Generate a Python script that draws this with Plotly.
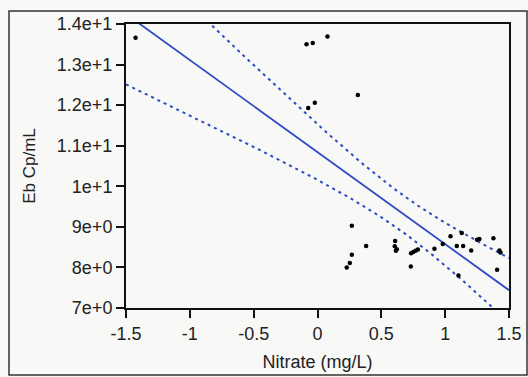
import numpy as np
import plotly.graph_objects as go

# Data
nitrate = [-1.425, -0.086, -0.037, 0.078, 0.316, -0.073, -0.021,
           0.269, 0.381, 0.269, 0.253, 0.229,
           0.608, 0.605, 0.621, 0.614,
           0.733, 0.750, 0.768, 0.786, 0.731,
           0.916, 0.981, 1.042,
           1.091, 1.141, 1.130, 1.104,
           1.204, 1.250, 1.268,
           1.378, 1.425, 1.433, 1.407]
eb = [13.66, 13.50, 13.53, 13.69, 12.25, 11.93, 12.06,
      9.03, 8.53, 8.31, 8.11, 8.00,
      8.65, 8.52, 8.45, 8.41,
      8.35, 8.38, 8.41, 8.44, 8.02,
      8.46, 8.58, 8.77,
      8.53, 8.53, 8.85, 7.80,
      8.42, 8.68, 8.70,
      8.72, 8.42, 8.37, 7.94]

x_tickvals = [-1.5, -1, -0.5, 0, 0.5, 1, 1.5]
x_ticktext = ["-1.5", "-1", "-0.5", "0", "0.5", "1", "1.5"]
y_tickvals = [7, 8, 9, 10, 11, 12, 13, 14]
y_ticktext = ["7e+0", "8e+0", "9e+0", "1e+1", "1.1e+1", "1.2e+1", "1.3e+1", "1.4e+1"]
t_crit = 2.035  # t(0.975, n-2)

# Linear regression with 95% confidence band
x = np.array(nitrate)
y = np.array(eb)
n = len(x)
slope, intercept = np.polyfit(x, y, 1)
resid = y - (intercept + slope * x)
s = np.sqrt(np.sum(resid ** 2) / (n - 2))
sxx = np.sum((x - x.mean()) ** 2)
xg = np.linspace(x_tickvals[0], x_tickvals[-1], 300)
yg = intercept + slope * xg
hw = t_crit * s * np.sqrt(1.0 / n + (xg - x.mean()) ** 2 / sxx)

blue = "rgb(45,75,195)"
fig = go.Figure()
fig.add_trace(go.Scatter(x=xg, y=yg + hw, mode="lines",
                         line=dict(color=blue, width=2, dash="3px,4px"),
                         hoverinfo="skip", showlegend=False))
fig.add_trace(go.Scatter(x=xg, y=yg - hw, mode="lines",
                         line=dict(color=blue, width=2, dash="3px,4px"),
                         hoverinfo="skip", showlegend=False))
fig.add_trace(go.Scatter(x=xg, y=yg, mode="lines",
                         line=dict(color=blue, width=1.8),
                         hoverinfo="skip", showlegend=False))
fig.add_trace(go.Scatter(x=nitrate, y=eb, mode="markers",
                         marker=dict(color="black", size=4.5),
                         showlegend=False))

font_family = "Liberation Sans, Arial, sans-serif"
axis_common = dict(showgrid=False, zeroline=False, showline=True, linecolor="#111",
                   linewidth=2, mirror=True, ticks="outside", ticklen=8,
                   tickwidth=2, tickcolor="#111", automargin=False,
                   tickfont=dict(family=font_family, size=18, color="#222"))

fig.update_layout(
    width=528, height=377,
    margin=dict(l=126, r=19, t=24, b=69),
    paper_bgcolor="#f8f8f7", plot_bgcolor="#f8f8f7",
    font=dict(family=font_family, color="#222"),
    xaxis=dict(range=[-1.5, 1.5], tickvals=x_tickvals, ticktext=x_ticktext,
               title=dict(text="Nitrate (mg/L)", font=dict(size=18), standoff=13),
               **axis_common),
    yaxis=dict(range=[7, 14], tickvals=y_tickvals, ticktext=y_ticktext,
               title=dict(text="Eb Cp/mL", font=dict(size=17), standoff=17),
               **axis_common),
    shapes=[dict(type="rect", xref="paper", yref="paper",
                 x0=-0.3055, x1=1.047, y0=-0.236, y1=1.0458,
                 line=dict(color="#333", width=1.5), layer="below")],
)

fig.write_html("out.html", config={"displayModeBar": False},
               post_script="document.body.style.margin='0px';document.body.style.overflow='hidden';")
